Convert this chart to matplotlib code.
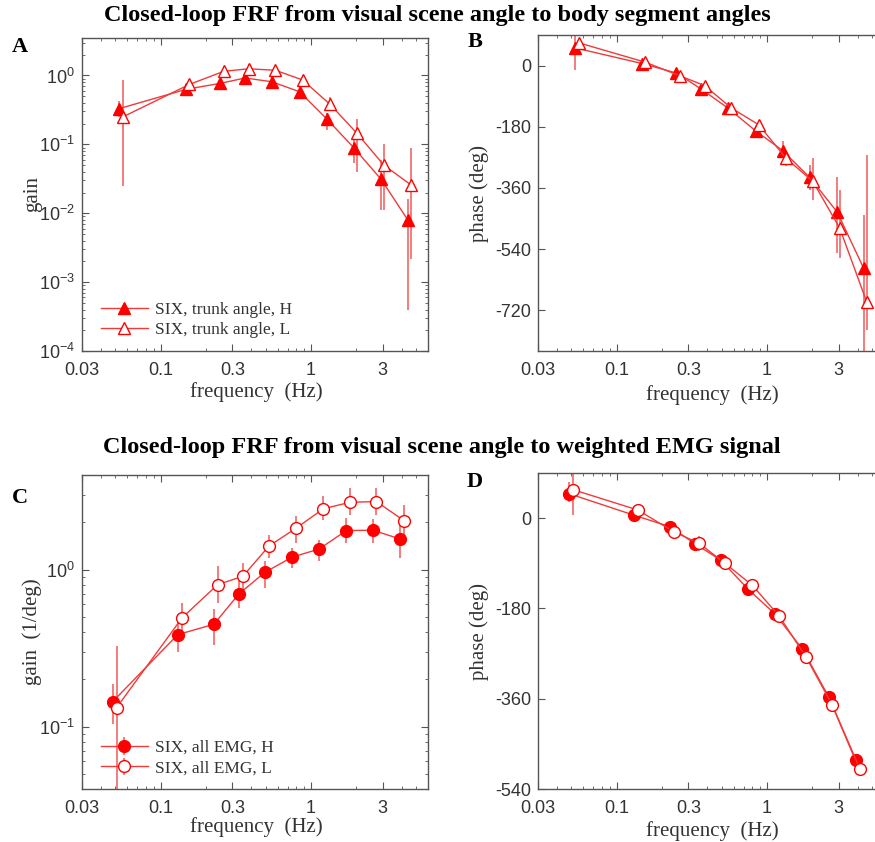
import numpy as np
import matplotlib
matplotlib.use("Agg")
import matplotlib.pyplot as plt
from matplotlib.ticker import FixedLocator, FixedFormatter, LogLocator, NullFormatter

plt.rcParams['font.family'] = ['Liberation Sans', 'DejaVu Sans']
plt.rcParams['mathtext.fontset'] = 'custom'
plt.rcParams['mathtext.rm'] = 'Liberation Sans'
plt.rcParams['mathtext.it'] = 'Liberation Sans:italic'
plt.rcParams['mathtext.bf'] = 'Liberation Sans:bold'
plt.rcParams['axes.unicode_minus'] = False

SERIF = ['Liberation Serif', 'DejaVu Serif']

# ---- data: body segment angles (panels A, B) ----
freq_ab_H = [0.053, 0.148, 0.25, 0.365, 0.55, 0.84, 1.27, 1.92, 2.93, 4.4]
freq_ab_L = [0.056, 0.155, 0.263, 0.385, 0.58, 0.88, 1.34, 2.02, 3.05, 4.6]

gain_a_H = [0.33, 0.63, 0.77, 0.92, 0.81, 0.58, 0.235, 0.09, 0.031, 0.0080]
gain_a_H_lo = [0.25, 0.53, 0.66, 0.80, 0.68, 0.47, 0.16, 0.054, 0.011, 0.0004]
gain_a_H_hi = [0.42, 0.74, 0.88, 1.05, 0.98, 0.70, 0.29, 0.125, 0.060, 0.016]
gain_a_L = [0.25, 0.74, 1.15, 1.25, 1.19, 0.86, 0.38, 0.145, 0.05, 0.026]
gain_a_L_lo = [0.025, 0.64, 0.98, 1.08, 1.02, 0.74, 0.30, 0.040, 0.011, 0.0022]
gain_a_L_hi = [0.85, 0.86, 1.35, 1.45, 1.38, 1.0, 0.48, 0.23, 0.10, 0.09]

phase_b_H = [52, 6, -22, -69, -125, -192, -250, -329, -431, -597]
phase_b_H_lo = [-12, -2, -30, -77, -133, -200, -272, -366, -553, -860]
phase_b_H_hi = [110, 14, -14, -61, -117, -184, -223, -292, -327, -440]
phase_b_L = [67, 10, -30, -59, -125, -174, -273, -341, -479, -695]
phase_b_L_lo = [57, 2, -38, -67, -133, -182, -296, -395, -567, -779]
phase_b_L_hi = [77, 18, -22, -51, -117, -166, -250, -272, -366, -263]

# ---- data: weighted EMG signal (panels C, D) ----
freq_cd_H = [0.048, 0.13, 0.226, 0.332, 0.494, 0.75, 1.13, 1.72, 2.57, 3.88]
freq_cd_L = [0.051, 0.139, 0.239, 0.353, 0.525, 0.80, 1.21, 1.82, 2.72, 4.15]

gain_c_H = [0.144, 0.385, 0.448, 0.70, 0.96, 1.20, 1.35, 1.77, 1.78, 1.57]
gain_c_H_lo = [0.104, 0.30, 0.33, 0.57, 0.76, 1.02, 1.13, 1.47, 1.47, 1.19]
gain_c_H_hi = [0.187, 0.48, 0.56, 0.84, 1.13, 1.37, 1.55, 2.12, 2.10, 1.93]
gain_c_L = [0.132, 0.493, 0.80, 0.907, 1.41, 1.84, 2.44, 2.68, 2.71, 2.05]
gain_c_L_lo = [0.03, 0.39, 0.61, 0.73, 1.19, 1.47, 2.07, 2.23, 2.23, 1.63]
gain_c_L_hi = [0.326, 0.61, 1.05, 1.10, 1.67, 2.18, 2.92, 3.29, 3.29, 2.58]

phase_d_H = [49, 6, -17, -51, -84, -142, -191, -261, -356, -483]
phase_d_H_lo = [32, 0, -23, -57, -90, -148, -197, -267, -362, -489]
phase_d_H_hi = [72, 12, -11, -45, -78, -136, -185, -255, -350, -477]
phase_d_L = [57, 16, -27, -50, -90, -134, -196, -277, -373, -500]
phase_d_L_lo = [6, 10, -33, -66, -96, -140, -202, -283, -379, -506]
phase_d_L_hi = [95, 22, -21, -35, -84, -128, -190, -271, -367, -494]

labels_ab = ['SIX, trunk angle, H', 'SIX, trunk angle, L']
labels_cd = ['SIX, all EMG, H', 'SIX, all EMG, L']
freq_ticks = [0.03, 0.1, 0.3, 1, 3]
freq_ticklabels = ['0.03', '0.1', '0.3', '1', '3']

RED = '#ff0000'
LINE = '#f03a3a'
ERR = '#f27272'
TXT = '#333333'

W, H = 875, 842
fig = plt.figure(figsize=(W / 100, H / 100), dpi=100)


def make_ax(left, top, right, bottom):
    return fig.add_axes([left / W, 1 - bottom / H, (right - left) / W, (bottom - top) / H])


axA = make_ax(82, 38, 428, 351)
axB = make_ax(538, 35, 884, 351)
axC = make_ax(82, 475, 428, 789)
axD = make_ax(538, 473, 884, 789)


def series(ax, f, y, lo, hi, marker, filled, label):
    y = np.array(y, dtype=float)
    yerr = [y - np.array(lo), np.array(hi) - y]
    ax.errorbar(f, y, yerr=yerr, fmt='none', ecolor=ERR, elinewidth=1.3, capsize=0, zorder=1)
    line, = ax.plot(f, y, color=LINE, lw=1.0, marker=marker, ms=8.5,
                    mfc=RED if filled else 'white', mec=RED, mew=1.0, zorder=3, label=label)
    return line


def style(ax):
    ax.set_xscale('log')
    ax.set_xlim(0.03, 6)
    ax.xaxis.set_major_locator(FixedLocator(freq_ticks))
    ax.xaxis.set_major_formatter(FixedFormatter(freq_ticklabels))
    ax.xaxis.set_minor_locator(LogLocator(base=10, subs=np.arange(2, 10)))
    ax.xaxis.set_minor_formatter(NullFormatter())
    ax.tick_params(which='both', direction='in', top=True, right=True, colors='#555555',
                   labelcolor=TXT, labelsize=13, pad=5)
    ax.tick_params(axis='x', which='major', pad=8)
    ax.tick_params(which='major', length=5)
    ax.tick_params(which='minor', length=2.5)
    for s in ax.spines.values():
        s.set_color('#555555')
        s.set_linewidth(1.0)
    ax.set_xlabel('frequency  (Hz)', family=SERIF, fontsize=15, color=TXT)


# Panel A
lA1 = series(axA, freq_ab_H, gain_a_H, gain_a_H_lo, gain_a_H_hi, '^', True, labels_ab[0])
lA2 = series(axA, freq_ab_L, gain_a_L, gain_a_L_lo, gain_a_L_hi, '^', False, labels_ab[1])
style(axA)
axA.set_yscale('log')
axA.set_ylim(1e-4, 3.5)
axA.yaxis.set_minor_formatter(NullFormatter())
axA.set_ylabel('gain', family=SERIF, fontsize=15, color=TXT)
axA.legend(handles=[lA1, lA2], loc='lower left', bbox_to_anchor=(0.055, 0.04), frameon=False,
           prop={'family': SERIF, 'size': 12.5}, handlelength=2.7, handletextpad=0.4,
           labelspacing=0.25, borderpad=0, borderaxespad=0, labelcolor=TXT)

# Panel B
series(axB, freq_ab_H, phase_b_H, phase_b_H_lo, phase_b_H_hi, '^', True, labels_ab[0])
series(axB, freq_ab_L, phase_b_L, phase_b_L_lo, phase_b_L_hi, '^', False, labels_ab[1])
style(axB)
axB.set_ylim(-840, 90)
axB.set_yticks([0, -180, -360, -540, -720])
axB.set_ylabel('phase (deg)', family=SERIF, fontsize=15, color=TXT)

# Panel C
eC1 = axC.errorbar(freq_cd_H, gain_c_H,
                   yerr=[np.array(gain_c_H) - gain_c_H_lo, np.array(gain_c_H_hi) - gain_c_H],
                   fmt='-o', color=LINE, ecolor=ERR, elinewidth=1.3, lw=1.0, ms=8.5,
                   mfc=RED, mec=RED, label=labels_cd[0])
eC2 = axC.errorbar(freq_cd_L, gain_c_L,
                   yerr=[np.array(gain_c_L) - gain_c_L_lo, np.array(gain_c_L_hi) - gain_c_L],
                   fmt='-o', color=LINE, ecolor=ERR, elinewidth=1.3, lw=1.0, ms=8.5,
                   mfc='white', mec=RED, label=labels_cd[1])
style(axC)
axC.set_yscale('log')
axC.set_ylim(0.04, 4)
axC.yaxis.set_minor_formatter(NullFormatter())
axC.set_ylabel('gain  (1/deg)', family=SERIF, fontsize=15, color=TXT)
axC.legend(handles=[eC1, eC2], loc='lower left', bbox_to_anchor=(0.055, 0.04), frameon=False,
           prop={'family': SERIF, 'size': 12.5}, handlelength=2.7, handletextpad=0.4,
           labelspacing=0.25, borderpad=0, borderaxespad=0, labelcolor=TXT)

# Panel D
series(axD, freq_cd_H, phase_d_H, phase_d_H_lo, phase_d_H_hi, 'o', True, labels_cd[0])
series(axD, freq_cd_L, phase_d_L, phase_d_L_lo, phase_d_L_hi, 'o', False, labels_cd[1])
style(axD)
axD.set_ylim(-540, 90)
axD.set_yticks([0, -180, -360, -540])
axD.set_ylabel('phase (deg)', family=SERIF, fontsize=15, color=TXT)

# label placement
axA.yaxis.set_label_coords(-0.116, 0.5)
axC.yaxis.set_label_coords(-0.116, 0.5)
axB.yaxis.set_label_coords(-0.141, 0.5)
axD.yaxis.set_label_coords(-0.141, 0.5)
axA.xaxis.set_label_coords(0.503, -0.099)
axB.xaxis.set_label_coords(0.503, -0.108)
axC.xaxis.set_label_coords(0.503, -0.090)
axD.xaxis.set_label_coords(0.503, -0.103)

# titles and panel letters
fig.text(437 / W, 1 - 15 / H, 'Closed-loop FRF from visual scene angle to body segment angles',
         ha='center', va='center', family=SERIF, fontweight='bold', fontsize=17.5)
fig.text(442 / W, 1 - 447 / H, 'Closed-loop FRF from visual scene angle to weighted EMG signal',
         ha='center', va='center', family=SERIF, fontweight='bold', fontsize=17.5)
for txt, x, y in [('A', 20, 47), ('B', 475, 42), ('C', 20, 498), ('D', 475, 482)]:
    fig.text(x / W, 1 - y / H, txt, ha='center', va='center', family=SERIF,
             fontweight='bold', fontsize=16)

fig.savefig('out.png', dpi=100)
